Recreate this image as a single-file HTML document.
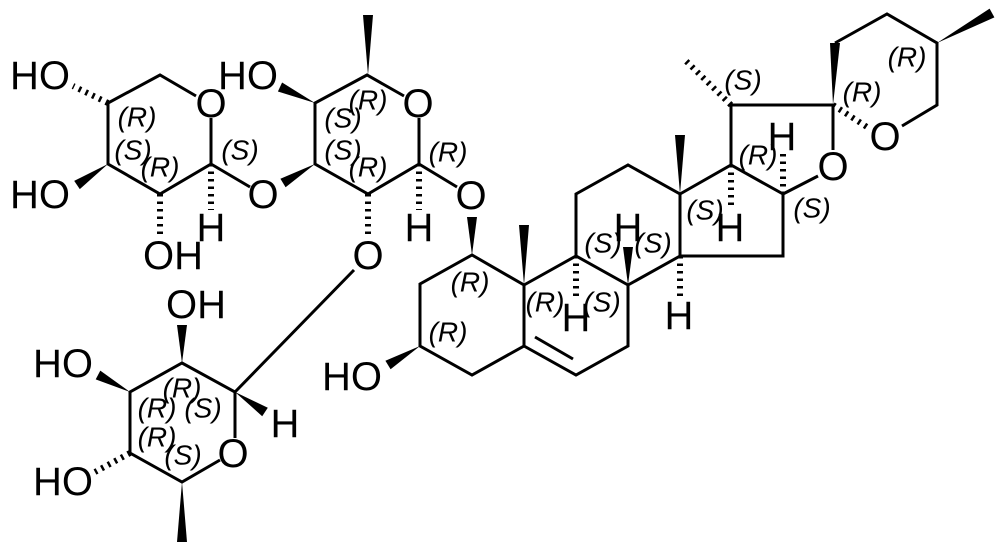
<!DOCTYPE html>
<html><head><meta charset="utf-8"><style>
html,body{margin:0;padding:0;background:#fff;}
svg{display:block;}
.b{stroke:#000;stroke-width:3;fill:none;stroke-linecap:butt;stroke-linejoin:miter;}
.h{stroke:#000;stroke-width:6;fill:none;stroke-dasharray:2.5,5;}
.a{font-family:"Liberation Sans",Arial,sans-serif;font-size:40px;fill:#000;text-anchor:middle;dominant-baseline:central;}
.s{font-family:"Liberation Sans",Arial,sans-serif;font-size:28px;font-style:italic;fill:#000;text-anchor:middle;dominant-baseline:central;}
</style></head><body>
<svg width="1002" height="552" viewBox="0 0 1002 552" xmlns="http://www.w3.org/2000/svg">
<g class="b">
<polyline points="196,96 160,75 108,103 108,164 160,194 211,164 211,118"/>
<line x1="211" y1="164" x2="250" y2="187"/>
<polyline points="404,96 367,75 315,103 315,164 368,194 419,164 419,118"/>
<line x1="419" y1="164" x2="457" y2="187"/>
<line x1="235" y1="392" x2="354" y2="270"/>
<polyline points="220,460 182,482 130,453 130,392 182,363 235,392 235,438"/>
<polygon points="472,255 420,284 420,346 472,375 524,346 524,285"/>
<polyline points="524,285 576,256 628,285 628,346 576,375 524,346"/>
<line x1="535" y1="337" x2="573" y2="359"/>
<polyline points="576,256 576,194 628,165 680,194 680,256 628,285"/>
<polyline points="680,194 731,165 783,194 783,256 680,256"/>
<polyline points="731,165 731,105 833,105 833,150"/>
<line x1="783" y1="194" x2="818" y2="176"/>
<polyline points="835,43 887,14 937,43 937,105 902,126"/>
</g>
<g fill="#000">
<polygon points="108,164 79.8,189.1 74.2,180.9"/>
<polygon points="315,164 285.6,187.3 280.4,178.7"/>
<polygon points="315,103 282.1,82.5 277.9,91.5"/>
<polygon points="368,75 373,15 363,15"/>
<polygon points="472,255 477,217 467,217"/>
<polygon points="524,285 529,225 519,225"/>
<polygon points="628,285 633,247 623,247"/>
<polygon points="680,194 685,135 675,135"/>
<polygon points="833,105 840,43 830,43"/>
<polygon points="937,43 994.4,17.4 989.6,8.6"/>
<polygon points="420,346 390.6,369.3 385.4,360.7"/>
<polygon points="182,363 187,325 177,325"/>
<polygon points="130,392 100.3,370.6 95.7,379.4"/>
<polygon points="235,392 262.2,416.2 267.8,407.8"/>
<polygon points="182,482 187,542 177,542"/>
</g>
<g class="h">
<line x1="108" y1="103" x2="73" y2="86"/>
<line x1="160" y1="194" x2="160" y2="236"/>
<line x1="211" y1="164" x2="211" y2="210"/>
<line x1="368" y1="194" x2="368" y2="238"/>
<line x1="419" y1="164" x2="419" y2="210"/>
<line x1="731" y1="105" x2="685" y2="60"/>
<line x1="833" y1="105" x2="867" y2="127"/>
<line x1="783" y1="194" x2="783" y2="154"/>
<line x1="731" y1="165" x2="731" y2="210"/>
<line x1="680" y1="256" x2="680" y2="300"/>
<line x1="576" y1="256" x2="576" y2="300"/>
<line x1="130" y1="453" x2="95" y2="472"/>
</g>
<g class="a">
<text x="40" y="76">HO</text>
<text x="211" y="104">O</text>
<text x="40" y="195">HO</text>
<text x="173" y="256">OH</text>
<text x="211" y="228">H</text>
<text x="263" y="195">O</text>
<text x="248" y="76">HO</text>
<text x="418" y="104">O</text>
<text x="368" y="256">O</text>
<text x="419" y="228">H</text>
<text x="471" y="196">O</text>
<text x="196" y="305">OH</text>
<text x="63" y="364">HO</text>
<text x="63" y="482">HO</text>
<text x="233" y="454">O</text>
<text x="285" y="424">H</text>
<text x="352" y="377">HO</text>
<text x="576" y="318">H</text>
<text x="628" y="228">H</text>
<text x="679" y="316">H</text>
<text x="730" y="228">H</text>
<text x="782" y="137">H</text>
<text x="833" y="167">O</text>
<text x="885" y="137">O</text>
</g>
<g class="s">
<text x="137" y="117">(R)</text>
<text x="133" y="150">(S)</text>
<text x="160" y="167">(R)</text>
<text x="240" y="150">(S)</text>
<text x="368" y="100">(R)</text>
<text x="343" y="118">(S)</text>
<text x="343" y="150">(S)</text>
<text x="368" y="167">(R)</text>
<text x="448" y="152">(R)</text>
<text x="182" y="388">(R)</text>
<text x="157" y="408">(R)</text>
<text x="203" y="408">(S)</text>
<text x="157" y="437">(R)</text>
<text x="183" y="455">(S)</text>
<text x="470" y="282">(R)</text>
<text x="448" y="332">(R)</text>
<text x="545" y="302">(R)</text>
<text x="602" y="302">(S)</text>
<text x="603" y="243">(S)</text>
<text x="653" y="243">(S)</text>
<text x="705" y="210">(S)</text>
<text x="758" y="155">(R)</text>
<text x="812" y="208">(S)</text>
<text x="743" y="80">(S)</text>
<text x="862" y="92">(R)</text>
<text x="907" y="57">(R)</text>
</g>
</svg>
</body></html>
